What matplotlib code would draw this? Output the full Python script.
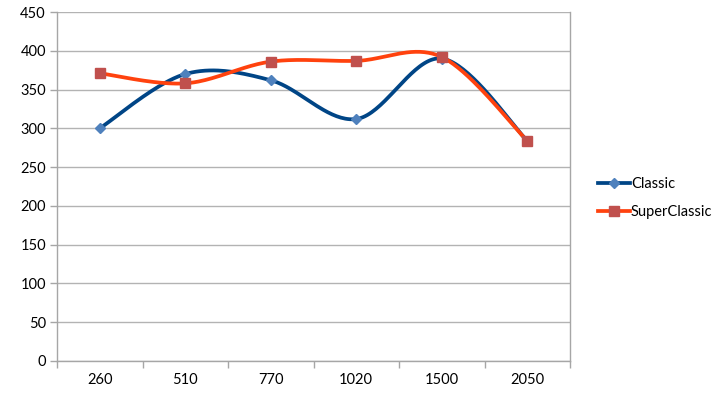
import numpy as np
import matplotlib.pyplot as plt
from matplotlib.lines import Line2D

categories = ['260', '510', '770', '1020', '1500', '2050']
classic = [300, 370, 362, 312, 390, 284]
super_classic = [371, 358, 386, 387, 392, 284]


def smooth(x, y, steps=40):
    # Excel style smoothed line: bezier segments with catmull-rom control points
    pts = np.column_stack([x, y]).astype(float)
    ext = np.vstack([pts[0], pts, pts[-1]])
    t = np.linspace(0, 1, steps)[:, None]
    out = []
    for i in range(len(pts) - 1):
        p0 = ext[i + 1]
        p3 = ext[i + 2]
        c1 = p0 + (ext[i + 2] - ext[i]) / 6
        c2 = p3 - (ext[i + 3] - ext[i + 1]) / 6
        seg = ((1 - t) ** 3) * p0 + 3 * ((1 - t) ** 2) * t * c1 + 3 * (1 - t) * t ** 2 * c2 + t ** 3 * p3
        out.append(seg if i == 0 else seg[1:])
    out = np.vstack(out)
    return out[:, 0], out[:, 1]


plt.rcParams['font.family'] = ['Lato', 'DejaVu Sans']

fig = plt.figure(figsize=(7.15, 3.97), dpi=100)
ax = fig.add_axes([57 / 715, 36 / 397, 513 / 715, 349 / 397])

xpos = np.arange(len(categories))
blue_line = '#004586'
blue_mark = '#4F81BD'
red_line = '#FF420E'
red_mark = '#C0504D'

sx, sy = smooth(xpos, classic)
ax.plot(sx, sy, color=blue_line, lw=2.7, solid_capstyle='round', zorder=3)
ax.plot(xpos, classic, ls='none', marker='D', ms=5, color=blue_mark, zorder=4)

sx, sy = smooth(xpos, super_classic)
ax.plot(sx, sy, color=red_line, lw=2.7, solid_capstyle='round', zorder=5)
ax.plot(xpos, super_classic, ls='none', marker='s', ms=7, color=red_mark, zorder=6)

ax.set_xlim(-0.5, len(categories) - 0.5)
ax.set_ylim(0, 450)
ax.set_yticks(range(0, 451, 50))
ax.set_xticks(xpos)
ax.set_xticklabels(categories)
ax.set_xticks(np.arange(-0.5, len(categories)), minor=True)
ax.tick_params(axis='x', which='major', length=0, pad=9, labelsize=10.5)
ax.tick_params(axis='x', which='minor', length=5, color='#A6A6A6', width=1)
ax.tick_params(axis='y', length=5, color='#A6A6A6', width=1, pad=3, labelsize=10.5)
ax.grid(axis='y', color='#B3B3B3', lw=1)
ax.set_axisbelow(True)
for side in ['left', 'bottom', 'right']:
    ax.spines[side].set_color('#A6A6A6')
    ax.spines[side].set_linewidth(1)
ax.spines['top'].set_visible(False)

handles = [
    Line2D([], [], color=blue_line, lw=2.7, marker='D', ms=5, mfc=blue_mark, mec=blue_mark),
    Line2D([], [], color=red_line, lw=2.7, marker='s', ms=7, mfc=red_mark, mec=red_mark),
]
fig.legend(handles, ['Classic', 'SuperClassic'], loc='center left',
           bbox_to_anchor=(585 / 715, 1 - 198 / 397), frameon=False,
           fontsize=10.5, handlelength=2.2, handletextpad=0.05, labelspacing=1.0)

fig.savefig('out.png', dpi=100)
